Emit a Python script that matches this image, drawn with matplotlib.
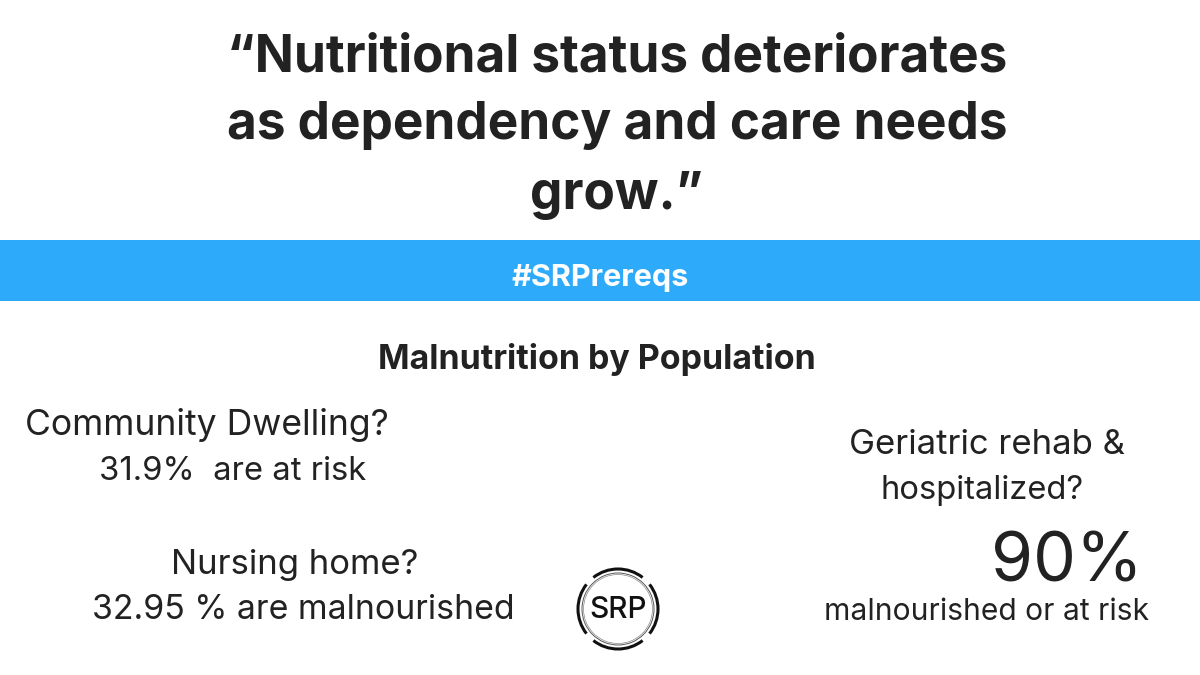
import matplotlib
matplotlib.use("Agg")
import matplotlib.pyplot as plt
from matplotlib.patches import Arc, Rectangle

W, H = 1200, 675
DARK = "#222222"
BLUE = "#2eaafa"
FONT = "Inter"

# title lines, centred
title_lines = ["“Nutritional status deteriorates", "as dependency and care needs", "grow.”"]
title_y = [58, 126, 196]
subtitle = "Malnutrition by Population"
hashtag = "#SRPrereqs"

# population stats
stat_labels = ["Community Dwelling?", "31.9%  are at risk", "Nursing home?", "32.95 % are malnourished",
               "Geriatric rehab &", "hospitalized?", "malnourished or at risk"]
stat_x = [207, 233, 295, 303, 987, 982, 987]
stat_y = [425, 471, 565, 610, 445, 491, 612]
stat_size = [25.6, 23.6, 25, 24.4, 25, 23.6, 21.6]

# logo ring pieces (start angle, end angle)
outer_arcs = [(-38, 38), (52, 128), (142, 218), (232, 308)]

fig = plt.figure(figsize=(12, 6.75), dpi=100)
ax = fig.add_axes([0, 0, 1, 1])
ax.set_xlim(0, W)
ax.set_ylim(H, 0)
ax.axis("off")

ax.add_patch(Rectangle((0, 240), W, 61, color=BLUE, lw=0))

for t, y in zip(title_lines, title_y):
    ax.text(617, y, t, fontsize=37, fontweight="bold", family=FONT, color=DARK, ha="center", va="center")

ax.text(600, 278, hashtag, fontsize=22, fontweight="bold", family=FONT, color="white",
        ha="center", va="center")
ax.text(597, 359, subtitle, fontsize=24.4, fontweight="bold", family=FONT, color=DARK,
        ha="center", va="center")

for t, x, y, s in zip(stat_labels, stat_x, stat_y, stat_size):
    ax.text(x, y, t, fontsize=s, family=FONT, color=DARK, ha="center", va="center")

ax.text(1067, 564, "90%", fontsize=49, family=FONT, color=DARK, ha="center", va="center")

# SRP logo
cx, cy = 618, 609
for a, b in outer_arcs:
    ax.add_patch(Arc((cx, cy), 80, 80, theta1=a, theta2=b, color="#111111", lw=2.2))
ax.add_patch(Arc((cx, cy), 72, 72, theta1=0, theta2=360, color="#555555", lw=0.7))
ax.add_patch(Arc((cx, cy), 69, 69, theta1=0, theta2=360, color="#888888", lw=0.5))
ax.text(cx, cy + 1, "SRP", fontsize=21.5, fontweight="medium", family=FONT, color="#111111", ha="center", va="center")

fig.savefig("out.png", dpi=100)
